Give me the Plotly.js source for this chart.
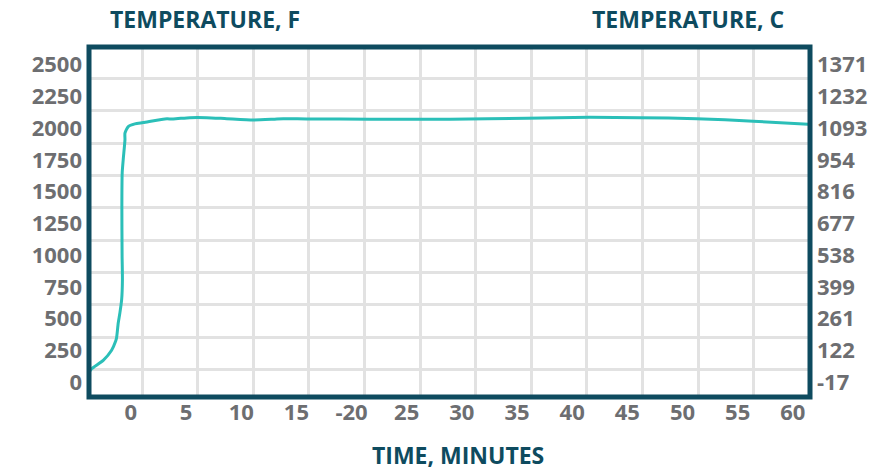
<!DOCTYPE html>
<html>
<head>
<meta charset="utf-8">
<script src="https://cdn.plot.ly/plotly-3.0.1.min.js"></script>
<style>html,body{margin:0;padding:0;background:#fff;}#chart{width:893px;height:472px;}</style>
</head>
<body>
<div id="chart"></div>
<script>
// Time in minutes and temperature in °F
const timeMin = [-3.8, -3.56, -2.51, -1.75, -1.39, -1.30, -1.15, -1.00, -0.84, -0.77, -0.80, -0.82, -0.79, -0.70, -0.54, -0.54, -0.24, 0.36, 1.12, 3.08, 3.84, 5.35, 6.86, 8.68, 11.09, 12.90, 13.81, 15.93, 21.67, 28.92, 35.87, 41.61, 46.15, 51.29, 56.42, 61.4];
const tempF   = [80, 107, 173, 252, 322, 351, 467, 546, 650, 807, 1000, 1384, 1649, 1751, 1908, 1961, 2013, 2034, 2044, 2073, 2073, 2083, 2083, 2075, 2065, 2071, 2075, 2073, 2071, 2071, 2079, 2086, 2083, 2075, 2055, 2031];

const xTickVals = [0, 5, 10, 15, 20, 25, 30, 35, 40, 45, 50, 55, 60];
const xTickText = ['0', '5', '10', '15', '-20', '25', '30', '35', '40', '45', '50', '55', '60'];
const yTickValsF = [0, 250, 500, 750, 1000, 1250, 1500, 1750, 2000, 2250, 2500];
const yTickTextF = ['0', '250', '500', '750', '1000', '1250', '1500', '1750', '2000', '2250', '2500'];
const yTickTextC = ['-17', '122', '261', '399', '538', '677', '816', '954', '1093', '1232', '1371'];

const dark = '#0e4b5f';
const gray = '#6d6e71';
const gridCol = '#e2e2e2';
const tickFont = {family: 'Open Sans', size: 22, color: gray, weight: 'bold'};
const titleFont = {family: 'Open Sans', size: 23, color: dark, weight: 'bold'};
const yRange = [-116, 2639];

const trace = {
  x: timeMin, y: tempF, type: 'scatter', mode: 'lines',
  line: {color: '#2bbfb8', width: 3, shape: 'spline', smoothing: 0.6},
  hoverinfo: 'skip', showlegend: false
};
const ghost = {
  x: [timeMin[0]], y: [tempF[0]], yaxis: 'y2', type: 'scatter', mode: 'none',
  hoverinfo: 'skip', showlegend: false
};

const layout = {
  width: 893, height: 472,
  margin: {l: 89, r: 83, t: 47, b: 75},
  paper_bgcolor: '#ffffff', plot_bgcolor: '#ffffff',
  xaxis: {
    range: [-3.8, 61.56], tickmode: 'array', tickvals: xTickVals, ticktext: xTickText,
    showgrid: false, zeroline: false, showline: false, ticks: '',
    tickfont: tickFont,
    minor: {tickmode: 'linear', tick0: 1.02, dtick: 5.04, showgrid: true, gridcolor: gridCol, gridwidth: 3, ticks: ''}
  },
  yaxis: {
    range: yRange, tickmode: 'array', tickvals: yTickValsF, ticktext: yTickTextF,
    showgrid: false, zeroline: false, showline: false, ticks: '',
    tickfont: tickFont, ticklabelstandoff: 6,
    minor: {tickmode: 'linear', tick0: 100, dtick: 254.7, showgrid: true, gridcolor: gridCol, gridwidth: 3, ticks: ''}
  },
  yaxis2: {
    range: yRange, overlaying: 'y', side: 'right', tickmode: 'array', tickvals: yTickValsF, ticktext: yTickTextC,
    showgrid: false, zeroline: false, showline: false, ticks: '',
    tickfont: tickFont, ticklabelstandoff: 6
  },
  shapes: [{
    type: 'rect', xref: 'paper', yref: 'paper', x0: 0, x1: 1, y0: 0, y1: 1,
    line: {color: dark, width: 5}, layer: 'above'
  }],
  annotations: [
    {text: 'TEMPERATURE, F', xref: 'paper', yref: 'paper', x: 0.161, y: 1.081, xanchor: 'center', yanchor: 'middle', showarrow: false, font: titleFont},
    {text: 'TEMPERATURE, C', xref: 'paper', yref: 'paper', x: 0.831, y: 1.081, xanchor: 'center', yanchor: 'middle', showarrow: false, font: titleFont},
    {text: 'TIME, MINUTES', xref: 'paper', yref: 'paper', x: 0.512, y: -0.167, xanchor: 'center', yanchor: 'middle', showarrow: false, borderpad: 0, font: titleFont}
  ]
};

Plotly.newPlot('chart', [trace, ghost], layout, {displayModeBar: false, staticPlot: true});
</script>
</body>
</html>
